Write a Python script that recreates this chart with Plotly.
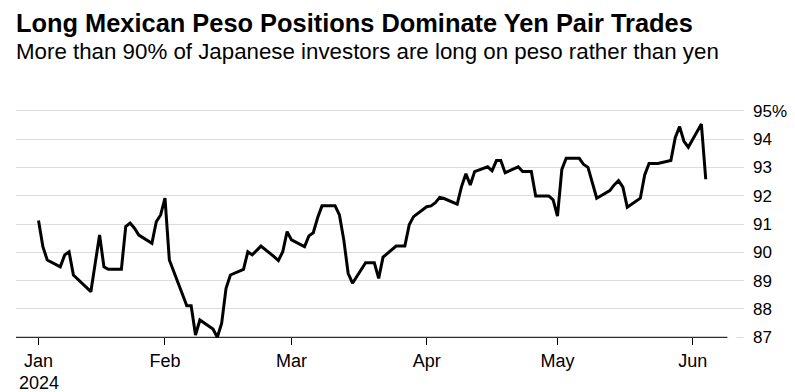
import plotly.graph_objects as go

# ---- data ----
dates = [
    "2024-01-03", "2024-01-04", "2024-01-05", "2024-01-08", "2024-01-09", "2024-01-10",
    "2024-01-11", "2024-01-12", "2024-01-15", "2024-01-16", "2024-01-17", "2024-01-18",
    "2024-01-19", "2024-01-22", "2024-01-23", "2024-01-24", "2024-01-25", "2024-01-26",
    "2024-01-29", "2024-01-30", "2024-01-31",
    "2024-02-01", "2024-02-02", "2024-02-05", "2024-02-06", "2024-02-07", "2024-02-08",
    "2024-02-09", "2024-02-12", "2024-02-13", "2024-02-14", "2024-02-15", "2024-02-16",
    "2024-02-19", "2024-02-20", "2024-02-21", "2024-02-22", "2024-02-23", "2024-02-26",
    "2024-02-27", "2024-02-28", "2024-02-29",
    "2024-03-01", "2024-03-04", "2024-03-05", "2024-03-06", "2024-03-07", "2024-03-08",
    "2024-03-11", "2024-03-12", "2024-03-13", "2024-03-14", "2024-03-15", "2024-03-18",
    "2024-03-19", "2024-03-20", "2024-03-21", "2024-03-22", "2024-03-25", "2024-03-26",
    "2024-03-27", "2024-03-28", "2024-03-29",
    "2024-04-01", "2024-04-02", "2024-04-03", "2024-04-04", "2024-04-05", "2024-04-08",
    "2024-04-09", "2024-04-10", "2024-04-11", "2024-04-12", "2024-04-15", "2024-04-16",
    "2024-04-17", "2024-04-18", "2024-04-19", "2024-04-22", "2024-04-23", "2024-04-24",
    "2024-04-25", "2024-04-26", "2024-04-29", "2024-04-30",
    "2024-05-01", "2024-05-02", "2024-05-03", "2024-05-06", "2024-05-07", "2024-05-08",
    "2024-05-09", "2024-05-10", "2024-05-13", "2024-05-14", "2024-05-15", "2024-05-16",
    "2024-05-17", "2024-05-20", "2024-05-21", "2024-05-22", "2024-05-23", "2024-05-24",
    "2024-05-27", "2024-05-28", "2024-05-29", "2024-05-30", "2024-05-31",
    "2024-06-03", "2024-06-04",
]
long_peso_pct = [
    91.12, 90.20, 89.73, 89.49, 89.91, 90.02,
    89.20, 89.05, 88.61, 89.61, 90.61, 89.49,
    89.40, 89.40, 90.91, 91.03, 90.85, 90.61,
    90.32, 91.08, 91.32,
    91.91, 89.73, 88.52, 88.11, 88.11, 87.08,
    87.61, 87.29, 87.00, 87.50, 88.73, 89.20,
    89.40, 90.02, 89.91, 90.06, 90.22, 89.85,
    89.71, 90.02, 90.73,
    90.44, 90.20, 90.58, 90.69, 91.22, 91.64,
    91.64, 91.32, 90.44, 89.26, 88.91, 89.63,
    89.63, 89.63, 89.08, 89.83, 90.22, 90.22,
    90.22, 90.97, 91.26,
    91.61, 91.64, 91.75, 91.94, 91.90, 91.70,
    92.32, 92.77, 92.38, 92.85, 93.02, 92.88,
    93.24, 93.24, 92.81, 93.02, 92.85, 92.85,
    92.85, 91.99, 91.99, 91.85,
    91.28, 92.93, 93.32, 93.32, 93.10, 93.00,
    92.45, 91.91, 92.18, 92.38, 92.53, 92.30,
    91.59, 91.91, 92.73, 93.14, 93.14, 93.14,
    93.24, 94.05, 94.44, 93.92, 93.71,
    94.53, 92.58,
]

y_tick_values = [87, 88, 89, 90, 91, 92, 93, 94, 95]
y_tick_labels = ["87", "88", "89", "90", "91", "92", "93", "94", "95%"]
x_tick_dates = ["2024-01-03", "2024-02-01", "2024-03-01", "2024-04-01", "2024-05-01", "2024-06-01"]
x_tick_labels = ["Jan", "Feb", "Mar", "Apr", "May", "Jun"]
year_label = "2024"

title_text = "Long Mexican Peso Positions Dominate Yen Pair Trades"
subtitle_text = "More than 90% of Japanese investors are long on peso rather than yen"

FONT = "Liberation Sans, Arial, sans-serif"

Y_MIN, Y_MAX = 86.6223, 95.3777
X_RANGE = ["2023-12-28 20:04", "2024-06-12 18:29"]
x_axis_pos = (87 - Y_MIN) / (Y_MAX - Y_MIN)

fig = go.Figure()
fig.add_trace(go.Scatter(
    x=dates, y=long_peso_pct, mode="lines",
    line=dict(color="#000000", width=3, shape="linear"),
    hoverinfo="skip", showlegend=False,
))

# the page body has an 8px default margin, so the figure is 8px smaller
fig.update_layout(
    width=787, height=384, autosize=False,
    margin=dict(l=8, r=51, t=92, b=44, pad=0),
    paper_bgcolor="white", plot_bgcolor="white",
    font=dict(family=FONT, color="#000000"),
    xaxis=dict(
        type="date", range=X_RANGE, automargin=False,
        tickmode="array", tickvals=x_tick_dates, ticktext=x_tick_labels,
        ticks="outside", ticklen=7, tickwidth=1, tickcolor="#000000",
        showgrid=False, showline=False, zeroline=False,
        anchor="free", position=x_axis_pos,
        tickfont=dict(family=FONT, size=18, color="#000000"),
    ),
    yaxis=dict(
        range=[Y_MIN, Y_MAX], side="right", automargin=False,
        tickmode="array", tickvals=y_tick_values, ticktext=y_tick_labels,
        showgrid=True, gridcolor="#dcdcdc", gridwidth=1,
        zeroline=False, showline=False, ticks="",
        ticklabelstandoff=8,
        tickfont=dict(family=FONT, size=17, color="#000000"),
    ),
    shapes=[
        dict(type="line", xref="paper", yref="y", x0=0, x1=0.9771, y0=87, y1=87,
             line=dict(color="#000000", width=1), layer="above"),
        dict(type="line", xref="paper", yref="y", x0=0.9785, x1=0.9897, y0=87, y1=87,
             line=dict(color="#ffffff", width=3), layer="above"),
    ],
    annotations=[
        dict(text="<b>" + title_text + "</b>", xref="paper", yref="paper",
             x=-0.0027, y=1.3105, xanchor="left", yanchor="middle", showarrow=False,
             font=dict(family=FONT, size=25.4, color="#000000")),
        dict(text=subtitle_text, xref="paper", yref="paper",
             x=-0.0027, y=1.1964, xanchor="left", yanchor="middle", showarrow=False,
             font=dict(family=FONT, size=22.3, color="#000000")),
        dict(text=year_label, xref="x", yref="paper",
             x=x_tick_dates[0], y=-0.141, xanchor="center", yanchor="middle",
             showarrow=False,
             font=dict(family=FONT, size=18, color="#000000")),
    ],
)

fig.write_html("out.html")
